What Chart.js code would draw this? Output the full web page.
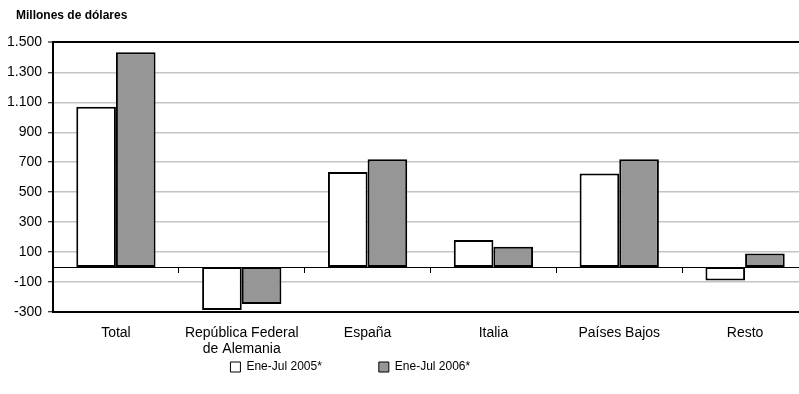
<!DOCTYPE html>
<html lang="es">
<head>
<meta charset="utf-8">
<title>Millones de dólares</title>
<script src="https://cdn.jsdelivr.net/npm/chart.js@4.4.1/dist/chart.umd.min.js"></script>
<style>
    html, body { margin: 0; padding: 0; background: #fff; overflow: hidden; }
    .chart-box { position: relative; width: 808px; height: 394px; }
</style>
</head>
<body>
<div class="chart-box"><canvas id="inversionChart"></canvas></div>
<script>
// Données (millions de dollars)
const categories = ['Total', ['República Federal', 'de Alemania'], 'España', 'Italia', 'Países Bajos', 'Resto'];
const serie2005 = [1070, -287, 635, 180, 625, -90];
const serie2006 = [1435, -247, 720, 135, 720, 90];
const seriesLabels = ['Ene-Jul 2005*', 'Ene-Jul 2006*'];
const yTicks = { min: -300, max: 1500, step: 200 };

const fontName = '"Liberation Sans", Arial, sans-serif';

// 1500 -> "1.500"
function formatMiles(v) {
    return String(v).replace(/\B(?=(\d{3})+(?!\d))/g, '.');
}

document.addEventListener('DOMContentLoaded', () => {
    const ctx = document.getElementById('inversionChart').getContext('2d');

    new Chart(ctx, {
        type: 'bar',
        data: {
            labels: categories,
            datasets: [{
                label: seriesLabels[0],
                data: serie2005,
                backgroundColor: '#ffffff',
                borderColor: '#000000',
                borderWidth: 2,
                borderSkipped: false,
                xAxisID: 'x'
            }, {
                label: seriesLabels[1],
                data: serie2006,
                backgroundColor: '#969696',
                borderColor: '#000000',
                borderWidth: 2,
                borderSkipped: false,
                xAxisID: 'x'
            }]
        },
        options: {
            responsive: true,
            maintainAspectRatio: false,
            animation: false,
            devicePixelRatio: 1,
            categoryPercentage: 0.63,
            barPercentage: 1.0,
            layout: {
                padding: { left: 6, right: 0, top: 0, bottom: 11 }
            },
            plugins: {
                title: {
                    display: true,
                    // léger retrait à gauche comme dans l'original
                    text: '   Millones de dólares',
                    align: 'start',
                    color: '#000',
                    font: { family: fontName, size: 12, weight: 'bold', lineHeight: 1.2 },
                    padding: { top: 8, bottom: 20 }
                },
                legend: {
                    position: 'bottom',
                    labels: {
                        color: '#000',
                        boxWidth: 10,
                        boxHeight: 10,
                        padding: 7,
                        font: { family: fontName, size: 12 },
                        // espaces pour écarter et décaler les deux entrées
                        generateLabels: (chart) => {
                            const items = Chart.defaults.plugins.legend.labels.generateLabels(chart);
                            items.forEach(it => { it.lineWidth = 1; it.strokeStyle = '#000'; });
                            items[0].text = items[0].text + ' '.repeat(15);
                            items[1].text = items[1].text + ' '.repeat(34);
                            return items;
                        }
                    }
                },
                tooltip: { enabled: false }
            },
            scales: {
                x: {
                    type: 'category',
                    position: 'bottom',
                    offset: true,
                    grid: { display: false, drawTicks: false },
                    border: { display: true, color: '#000', width: 2 },
                    ticks: {
                        color: '#000',
                        padding: 14,
                        maxRotation: 0,
                        autoSkip: false,
                        font: { family: fontName, size: 14, lineHeight: 1.08 }
                    },
                    afterFit: (scale) => { scale.height = 42; }
                },
                x0: {
                    type: 'category',
                    axis: 'x',
                    position: { y: 0 },
                    offset: true,
                    grid: {
                        display: true,
                        drawOnChartArea: false,
                        drawTicks: true,
                        tickLength: 5,
                        offset: true,
                        color: '#000',
                        lineWidth: 1
                    },
                    border: { display: true, color: '#000', width: 1 },
                    ticks: { display: false }
                },
                y: {
                    min: yTicks.min,
                    max: yTicks.max,
                    ticks: {
                        stepSize: yTicks.step,
                        color: '#000',
                        padding: 6,
                        font: { family: fontName, size: 14 },
                        callback: (v) => formatMiles(v)
                    },
                    grid: {
                        color: (c) => (c.tick && c.tick.value === yTicks.max) ? '#000' : '#c4c4c4',
                        lineWidth: (c) => (c.tick && c.tick.value === yTicks.max) ? 2 : 1.5,
                        tickColor: '#000',
                        tickWidth: 1,
                        tickLength: 5
                    },
                    border: { display: true, color: '#000', width: 2 },
                    afterFit: (scale) => { scale.width = 47; }
                }
            }
        }
    });
});
</script>
</body>
</html>
